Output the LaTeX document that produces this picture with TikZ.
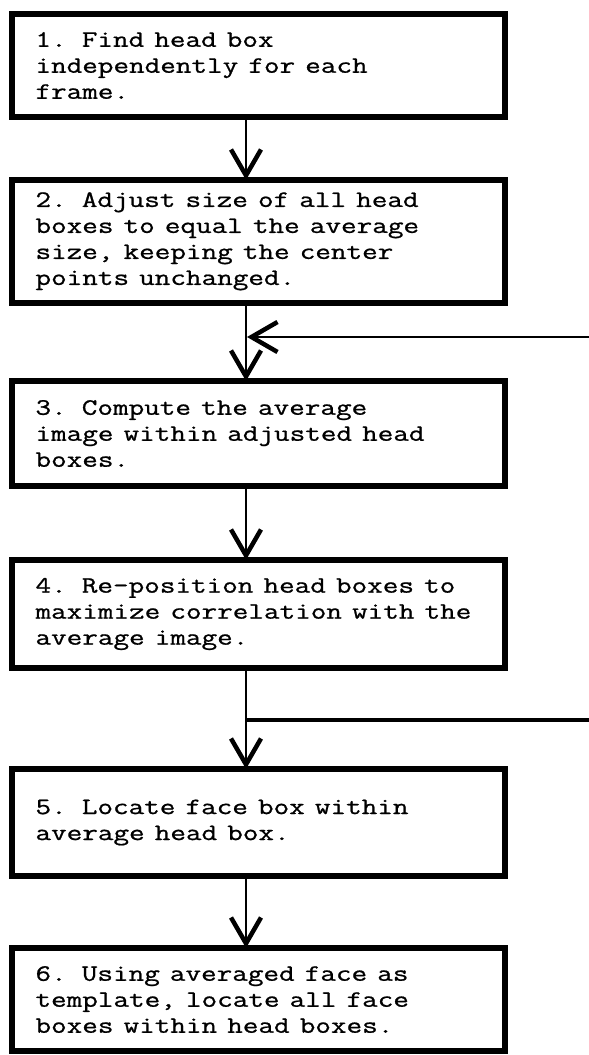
\documentclass[tikz,border=0pt]{standalone}
\usepackage{fontspec}
\usepackage{graphicx}
\newfontfamily\typew[FakeBold=0.8]{Latin Modern Mono}
\usetikzlibrary{arrows.meta}

% typewriter lines are widened to a fixed character pitch
\newsavebox\pitchprobe
\newcommand\pitchfactor{1}
\newcommand\tline[1]{\scalebox{\pitchfactor}[1]{#1}}

\tikzset{
  stepbox/.style={draw, line width=6pt, rectangle, anchor=north west,
    outer sep=0pt, inner xsep=24pt, inner ysep=0pt, minimum width=493pt,
    text width=445pt, align=left,
    font=\typew\fontsize{23.5}{26}\selectfont},
  flow/.style={line width=2.7pt,
    -{Straight Barb[length=26pt, width=30pt, line width=4.5pt]}},
  loopline/.style={line width=3.2pt},
}

\begin{document}
\sbox\pitchprobe{\typew\fontsize{23.5}{26}\selectfont M}
\pgfmathsetmacro\pitchfactor{15.6/\the\wd\pitchprobe}
\begin{tikzpicture}[x=1pt, y=-1pt]
  \useasboundingbox (0,0) rectangle (589,1055);

  % process steps, top to bottom
  \node[stepbox, minimum height=103pt] (b1) at (11.5,14)
    {\tline{1. Find head box}\\\tline{independently for each}\\\tline{frame.}};
  \node[stepbox, minimum height=122.5pt] (b2) at (11.5,180)
    {\tline{2. Adjust size of all head}\\\tline{boxes to equal the average}\\\tline{size, keeping the center}\\\tline{points unchanged.}};
  \node[stepbox, minimum height=105pt] (b3) at (11.5,381)
    {\tline{3. Compute the average}\\\tline{image within adjusted head}\\\tline{boxes.}};
  \node[stepbox, minimum height=108pt] (b4) at (11.5,560)
    {\tline{4. Re-position head boxes to}\\\tline{maximize correlation with the}\\\tline{average image.}};
  \node[stepbox, minimum height=107pt] (b5) at (11.5,769)
    {\tline{5. Locate face box within}\\\tline{average head box.}};
  \node[stepbox, minimum height=103pt] (b6) at (11.5,948)
    {\tline{6. Using averaged face as}\\\tline{template, locate all face}\\\tline{boxes within head boxes.}};

  % vertical flow axis and the loop ends at the right margin
  \coordinate (axis) at (246,0);
  \coordinate (loopin) at (589,337);
  \coordinate (loopout) at (589,720);

  \draw[flow] (b1.south -| axis) -- (b2.north -| axis);
  \draw[flow] (b2.south -| axis) -- (b3.north -| axis);
  \draw[flow] (b3.south -| axis) -- (b4.north -| axis);
  \draw[flow] (b4.south -| axis) -- (b5.north -| axis);
  \draw[flow] (b5.south -| axis) -- (b6.north -| axis);

  % iteration loop: leaves after step 4, re-enters before step 3
  \draw[loopline] (axis |- loopout) -- (loopout);
  \draw[loopline, flow] (loopin) -- ([xshift=1pt]axis |- loopin);
\end{tikzpicture}
\end{document}
